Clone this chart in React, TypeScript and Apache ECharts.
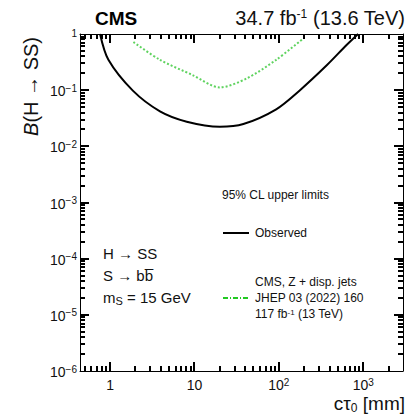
import React, { useEffect, useRef } from 'react';
import * as echarts from 'echarts';

// ---- data ----
const ctObserved = [0.76, 0.955, 1.86, 3.9, 8.1, 20, 38, 93, 178, 372, 630, 870];
const bObserved = [1.0, 0.347, 0.098, 0.042, 0.0275, 0.0224, 0.025, 0.0457, 0.1, 0.28, 0.63, 1.0];
const ctPrevious = [1.89, 3.9, 9.5, 20, 41.7, 93, 195];
const bPrevious = [0.72, 0.347, 0.186, 0.112, 0.162, 0.347, 0.83];
const xMajorExponents = [0, 1, 2, 3];
const yMajorExponents = [0, -1, -2, -3, -4, -5, -6];
const xRange = [0.44, 2960];
const yRange = [1e-6, 1];

const FONT = "'Liberation Sans', Arial, Helvetica, sans-serif";

const lg = (v: number) => Math.log10(v);

function minorLogs(lo: number, hi: number): number[] {
  const out: number[] = [];
  for (let d = Math.floor(lo) - 1; d <= Math.ceil(hi); d++) {
    for (let k = 2; k <= 9; k++) {
      const v = d + Math.log10(k);
      if (v > lo && v < hi) out.push(v);
    }
  }
  return out;
}

const labelRich = {
  b: { fontSize: 14, fontFamily: FONT, color: '#111', lineHeight: 16, padding: [4, 0, 0, 0], verticalAlign: 'bottom' },
  s: { fontSize: 10, fontFamily: FONT, color: '#111', lineHeight: 10, padding: [1, 0, 0, 0], verticalAlign: 'top' },
  one: { fontSize: 10, fontFamily: FONT, color: '#111', lineHeight: 12, verticalAlign: 'top' },
};

function expLabel(v: number): string {
  const n = Math.round(v);
  if (n === 0) return '{b|1}';
  if (n === 1) return '{b|10}';
  return '{b|10}{s|' + (n < 0 ? '\u2212' + Math.abs(n) : String(n)) + '}';
}

function yLabel(v: number): string {
  const n = Math.round(v);
  if (n === 0) return '{one|1}';
  return expLabel(v);
}

export default function App() {
  const ref = useRef<HTMLDivElement>(null);

  useEffect(() => {
    if (!ref.current) return;
    const chart = echarts.init(ref.current, undefined, { renderer: 'svg' });

    const xMin = lg(xRange[0]);
    const xMax = lg(xRange[1]);
    const yMin = lg(yRange[0]);
    const yMax = lg(yRange[1]);
    const xMinor = minorLogs(xMin, xMax);
    const yMinor = minorLogs(yMin, yMax);

    const obsData = ctObserved.map((c, i) => [lg(c), lg(bObserved[i])]);
    const prevData = ctPrevious.map((c, i) => [lg(c), lg(bPrevious[i])]);

    const axisBase = (dim: 'x' | 'y', position: string, label: any) => ({
      type: 'value',
      position,
      min: dim === 'x' ? xMin : yMin,
      max: dim === 'x' ? xMax : yMax,
      axisLine: { show: true, onZero: false, lineStyle: { color: '#000', width: 1 } },
      axisTick: { show: false },
      axisLabel: label ? label : { show: false },
      splitLine: { show: false },
    });

    const xLabel = {
      show: true,
      customValues: xMajorExponents,
      margin: 5,
      formatter: (v: number) => expLabel(v),
      rich: labelRich,
    };
    const yLab = {
      show: true,
      customValues: yMajorExponents,
      margin: 3,
      formatter: (v: number) => yLabel(v),
      rich: labelRich,
    };

    const txt = (x: number, y: number, text: string, fontSize: number, extra: any = {}) => ({
      type: 'text',
      x,
      y,
      silent: true,
      ...(extra.el || {}),
      style: {
        text,
        fontSize,
        fontFamily: FONT,
        fill: '#111',
        align: 'left',
        verticalAlign: 'middle',
        ...(extra.style || {}),
      },
    });

    const baseGraphic: any[] = [
      txt(95, 18, 'CMS', 19, { style: { fontWeight: 'bold', fill: '#000' } }),
      txt(405, 18, '{n|34.7 fb}{p|-1}{n| (13.6 TeV)}', 20, {
        style: {
          align: 'right',
          rich: {
            n: { fontSize: 20, fontFamily: FONT, fill: '#111', lineHeight: 20, padding: [4, 0, 0, 0], verticalAlign: 'bottom' },
            p: { fontSize: 12, fontFamily: FONT, fill: '#111', lineHeight: 12, verticalAlign: 'top' },
          },
        },
      }),
      txt(31, 37, '{i|B}{n|(H \u2192 SS)}', 20, {
        el: { rotation: Math.PI / 2 },
        style: {
          align: 'right',
          rich: {
            i: { fontSize: 20, fontFamily: FONT, fontStyle: 'italic', fill: '#111' },
            n: { fontSize: 20, fontFamily: FONT, fill: '#111' },
          },
        },
      }),
      txt(405, 404, '{n|c\u03c4}{u|0}{n| [mm]}', 19, {
        style: {
          align: 'right',
          rich: {
            n: { fontSize: 19, fontFamily: FONT, fill: '#111', lineHeight: 20, verticalAlign: 'top' },
            u: { fontSize: 12, fontFamily: FONT, fill: '#111', lineHeight: 12, padding: [8, 0, 0, 0], verticalAlign: 'bottom' },
          },
        },
      }),
      txt(222, 195, '95% CL upper limits', 12),
      { type: 'line', silent: true, shape: { x1: 223, y1: 233, x2: 249, y2: 233 }, style: { stroke: '#000', lineWidth: 2 } },
      txt(255, 233, 'Observed', 12),
      txt(255, 282, 'CMS, Z + disp. jets', 12),
      txt(255, 298, 'JHEP 03 (2022) 160', 12),
      txt(255, 314, '{n|117 fb}{p|-1}{n| (13 TeV)}', 12, {
        style: {
          rich: {
            n: { fontSize: 12, fontFamily: FONT, fill: '#111', lineHeight: 12, padding: [3, 0, 0, 0], verticalAlign: 'bottom' },
            p: { fontSize: 8, fontFamily: FONT, fill: '#111', lineHeight: 8, verticalAlign: 'top' },
          },
        },
      }),
      { type: 'line', silent: true, shape: { x1: 223, y1: 298, x2: 249, y2: 298 }, style: { stroke: '#22c922', lineWidth: 2, lineDash: [5, 2, 1, 2] } },
      txt(103, 253, 'H \u2192 SS', 15),
      txt(103, 275, 'S \u2192 bb\u0305', 15),
      txt(103, 298, '{n|m}{u|S}{n| = 15 GeV}', 15, {
        style: {
          rich: {
            n: { fontSize: 15, fontFamily: FONT, fill: '#111', lineHeight: 16, verticalAlign: 'top' },
            u: { fontSize: 11, fontFamily: FONT, fill: '#111', lineHeight: 11, padding: [7, 0, 0, 0], verticalAlign: 'bottom' },
          },
        },
      }),
    ];

    chart.setOption({
      animation: false,
      backgroundColor: '#fff',
      grid: { left: 80, right: 4, top: 34, bottom: 49, containLabel: false },
      xAxis: [axisBase('x', 'bottom', xLabel), axisBase('x', 'top', null)],
      yAxis: [axisBase('y', 'left', yLab), axisBase('y', 'right', null)],
      series: [
        {
          type: 'line',
          name: 'Observed',
          xAxisIndex: 0,
          yAxisIndex: 0,
          data: obsData,
          showSymbol: false,
          smooth: 0.3,
          lineStyle: { color: '#000', width: 2 },
        },
        {
          type: 'line',
          name: 'CMS, Z + disp. jets',
          xAxisIndex: 0,
          yAxisIndex: 0,
          data: prevData,
          showSymbol: false,
          smooth: 0.3,
          lineStyle: { color: '#5fd35f', width: 2, type: 'dotted' },
        },
      ],
      graphic: baseGraphic,
    });

    // ROOT-style inside tick marks on all four sides, positioned through the chart's own scales
    const toPx = (p: number[]) => chart.convertToPixel({ gridIndex: 0 }, p) as number[];
    const tickEls: any[] = [];
    const tw = 2;
    const addX = (v: number, len: number) => {
      const b = toPx([v, yMin]);
      const t = toPx([v, yMax]);
      const x = Math.round(b[0]);
      tickEls.push({ type: 'rect', silent: true, z: 10, shape: { x: x - tw / 2, y: b[1] - len, width: tw, height: len }, style: { fill: '#000' } });
      tickEls.push({ type: 'rect', silent: true, z: 10, shape: { x: x - tw / 2, y: t[1], width: tw, height: len }, style: { fill: '#000' } });
    };
    const addY = (v: number, len: number) => {
      const l = toPx([xMin, v]);
      const r = toPx([xMax, v]);
      const y = Math.round(l[1]);
      tickEls.push({ type: 'rect', silent: true, z: 10, shape: { x: l[0], y: y - tw / 2, width: len, height: tw }, style: { fill: '#000' } });
      tickEls.push({ type: 'rect', silent: true, z: 10, shape: { x: r[0] - len, y: y - tw / 2, width: len, height: tw }, style: { fill: '#000' } });
    };
    xMajorExponents.forEach((v) => addX(v, 9));
    xMinor.forEach((v) => addX(v, 5));
    yMajorExponents.filter((v) => v > yMin + 1e-9 && v < yMax - 1e-9).forEach((v) => addY(v, 9));
    yMinor.forEach((v) => addY(v, 5));

    chart.setOption({ graphic: [...baseGraphic, ...tickEls] }, { replaceMerge: ['graphic'] });

    return () => chart.dispose();
  }, []);

  return <div ref={ref} style={{ position: 'absolute', left: 0, top: 0, width: 407, height: 420 }} />;
}
